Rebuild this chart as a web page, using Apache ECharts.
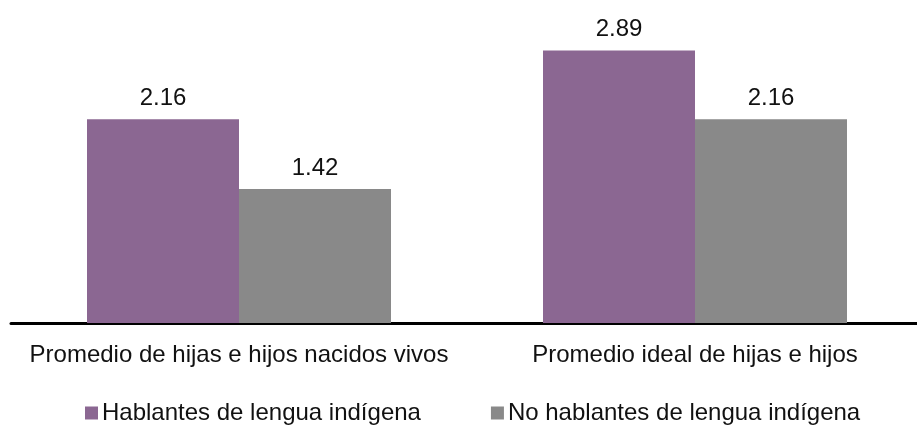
<!DOCTYPE html>
<html>
<head>
<meta charset="utf-8">
<script src="https://cdn.jsdelivr.net/npm/echarts@6/dist/echarts.min.js"></script>
<style>
  html, body { margin: 0; padding: 0; background: #fff; }
  #chart { width: 917px; height: 430px; }
</style>
</head>
<body>
<div id="chart"></div>
<script>
// datos
var categorias = ["Promedio de hijas e hijos nacidos vivos", "Promedio ideal de hijas e hijos"];
var hablantes = [2.16, 2.89];
var noHablantes = [1.42, 2.16];
var nombres = ["Hablantes de lengua indígena", "No hablantes de lengua indígena"];

var myChart = echarts.init(document.getElementById("chart"));
var font = "Liberation Sans, Arial, sans-serif";

var etiqueta = {
  show: true,
  position: "top",
  distance: 9,
  fontFamily: font,
  fontSize: 24,
  color: "#111",
  formatter: function (p) { return p.value.toFixed(2); }
};

var options = {
  animation: false,
  grid: { left: 11, right: -6, top: 40, bottom: 107, outerBoundsMode: "none" },
  legend: {
    data: nombres,
    bottom: 0,
    left: 80,
    itemWidth: 13,
    itemHeight: 13,
    itemGap: 70,
    icon: "rect",
    textStyle: { fontFamily: font, fontSize: 24, color: "#111", padding: [0, 0, 0, -1] }
  },
  xAxis: {
    type: "category",
    data: categorias,
    axisTick: { show: false },
    axisLine: { lineStyle: { color: "#000", width: 3 } },
    axisLabel: { fontFamily: font, fontSize: 24, color: "#111", margin: 20, interval: 0 }
  },
  yAxis: {
    type: "value",
    min: 0,
    max: 3,
    show: false,
    splitLine: { show: false }
  },
  series: [
    {
      name: nombres[0],
      type: "bar",
      data: hablantes,
      barWidth: 152,
      barGap: "0%",
      itemStyle: { color: "#8b6792" },
      label: etiqueta
    },
    {
      name: nombres[1],
      type: "bar",
      data: noHablantes,
      barWidth: 152,
      barGap: "0%",
      itemStyle: { color: "#898989" },
      label: etiqueta
    }
  ]
};

myChart.setOption(options);
</script>
</body>
</html>
